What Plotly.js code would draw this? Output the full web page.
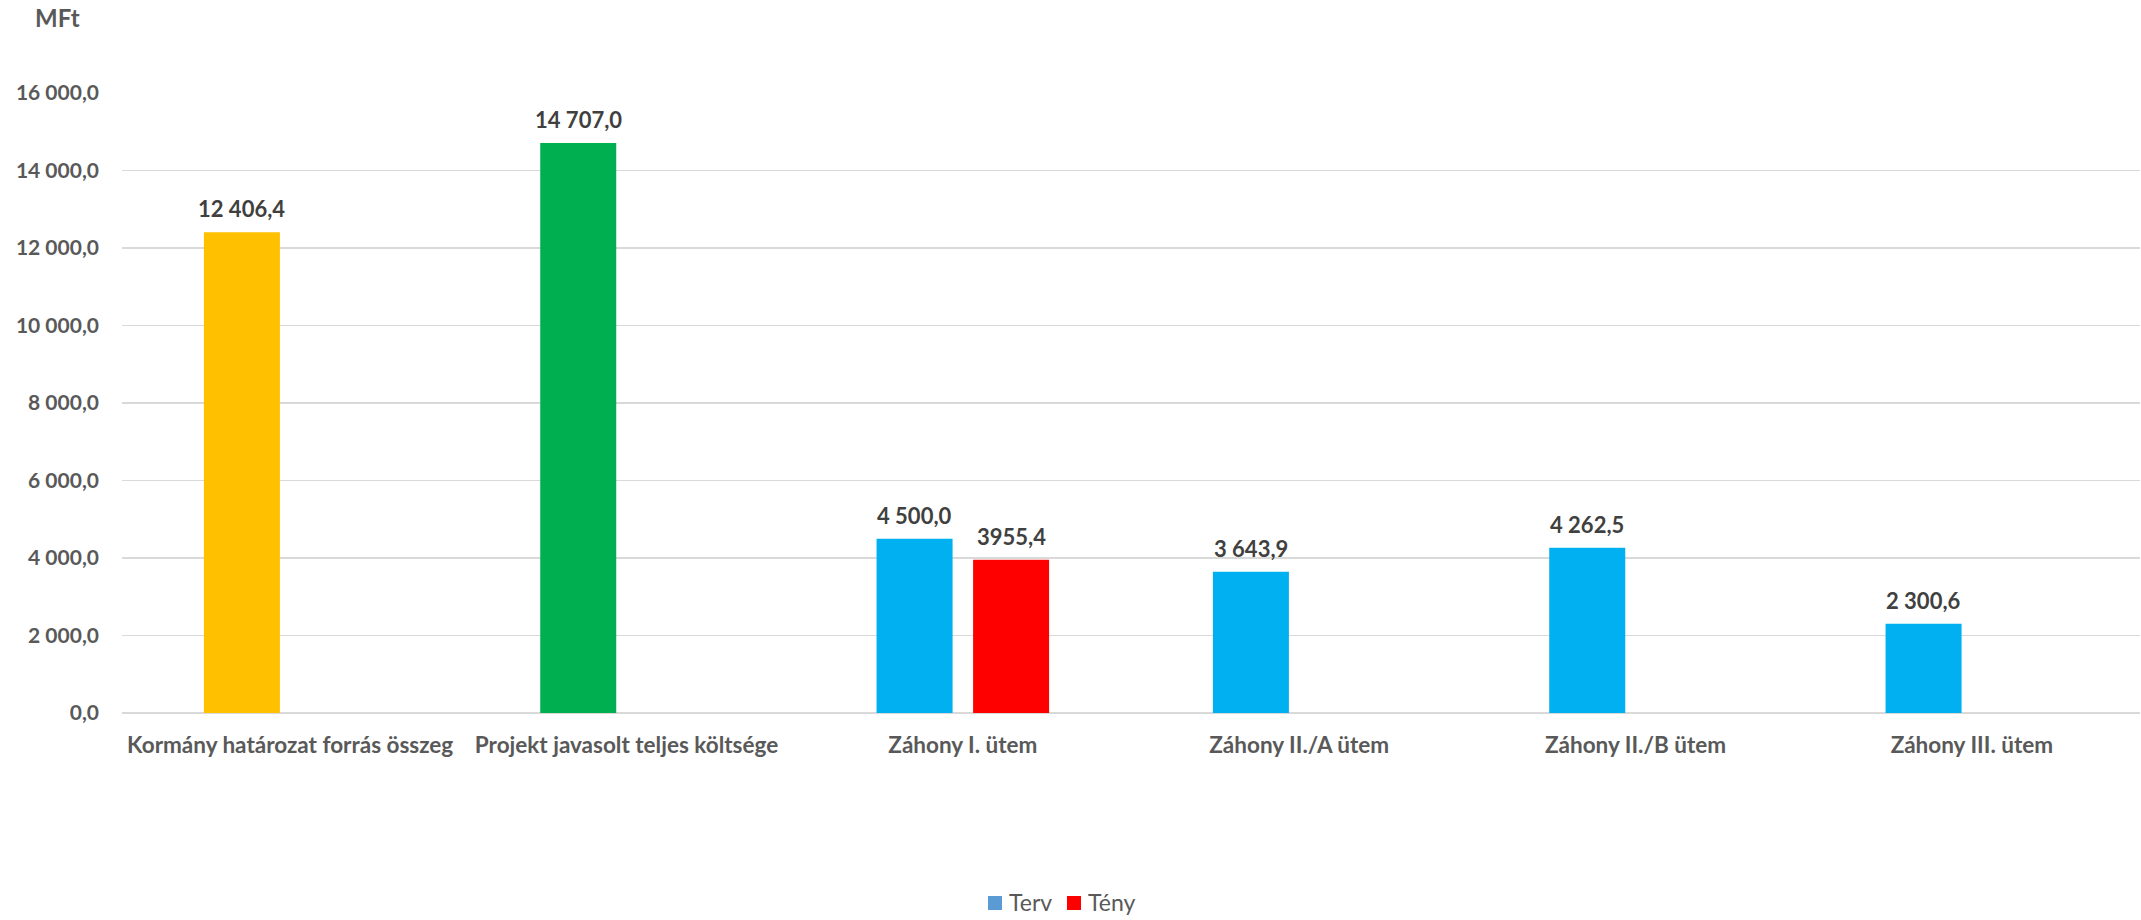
<!DOCTYPE html>
<html>
<head>
<meta charset="utf-8">
<script src="https://cdn.plot.ly/plotly-3.0.1.min.js"></script>
<style>html,body{margin:0;padding:0;background:#fff;}#chart{width:2141px;height:920px;}</style>
</head>
<body>
<div id="chart"></div>
<script>
const categories = ["Kormány határozat forrás összeg", "Projekt javasolt teljes költsége", "Záhony I. ütem", "Záhony II./A ütem", "Záhony II./B ütem", "Záhony III. ütem"];
const tervValues = [12406.4, 14707.0, 4500.0, 3643.9, 4262.5, 2300.6];
const tenyValues = [null, null, 3955.4, null, null, null];
const tervLabels = ["12 406,4", "14 707,0", "4 500,0", "3 643,9", "4 262,5", "2 300,6"];
const tenyLabels = ["", "", "3955,4", "", "", ""];
const tervColors = ["#FFC000", "#00B050", "#00B0F0", "#00B0F0", "#00B0F0", "#00B0F0"];
const tickVals = [0, 2000, 4000, 6000, 8000, 10000, 12000, 14000, 16000];
const tickText = ["0,0", "2 000,0", "4 000,0", "6 000,0", "8 000,0", "10 000,0", "12 000,0", "14 000,0", "16 000,0"];
const legendNames = ["Terv", "Tény"];
const legendColors = ["#5B9BD5", "#FF0000"];

const FONT = "Lato, 'Open Sans', sans-serif";
const BW = 0.226, OFF = 0.1435;

const W = 2141, H = 920;
const mt = 93, mb = 207, ml = 122, mr = 1;
const plotH = H - mt - mb, plotW = W - ml - mr;
const px = x => (x - ml) / plotW;
const py = y => (H - mb - y) / plotH;

const traces = [
  {type: "bar", name: "Terv", x: categories, y: tervValues, width: BW, offset: -OFF - BW/2,
   marker: {color: tervColors}, showlegend: false, hoverinfo: "x+y"},
  {type: "bar", name: "Tény", x: categories, y: tenyValues, width: BW, offset: OFF - BW/2,
   marker: {color: "#FF0000"}, showlegend: false, hoverinfo: "x+y"}
];

const annotations = [];
tervValues.forEach((v, i) => {
  if (v !== null) annotations.push({x: i - OFF, y: v, xref: "x", yref: "y", text: "<b>" + tervLabels[i] + "</b>",
    showarrow: false, yanchor: "bottom", yshift: 8, font: {family: FONT, size: 22, color: "#404040"}});
});
tenyValues.forEach((v, i) => {
  if (v !== null) annotations.push({x: i + OFF, y: v, xref: "x", yref: "y", text: "<b>" + tenyLabels[i] + "</b>",
    showarrow: false, yanchor: "bottom", yshift: 8, font: {family: FONT, size: 22, color: "#404040"}});
});
annotations.push({x: px(57), y: py(17), xref: "paper", yref: "paper",
  xanchor: "center", yanchor: "middle", text: "<b>MFt</b>", showarrow: false,
  font: {family: FONT, size: 24, color: "#595959"}});

// legend (drawn manually so it does not push the plot margins)
const legSquareX = [988, 1067];
const shapes = [];
legendNames.forEach((n, i) => {
  shapes.push({type: "rect", xref: "paper", yref: "paper", x0: px(legSquareX[i]), x1: px(legSquareX[i] + 14),
    y0: py(910), y1: py(896), fillcolor: legendColors[i], line: {width: 0}});
  annotations.push({x: px(legSquareX[i] + 19), y: py(902), xref: "paper", yref: "paper", xanchor: "left", yanchor: "middle",
    text: n, showarrow: false, font: {family: FONT, size: 23, color: "#595959"}});
});

const layout = {
  width: W, height: H,
  margin: {l: ml, r: mr, t: mt, b: mb, pad: 0},
  paper_bgcolor: "#ffffff", plot_bgcolor: "#ffffff",
  font: {family: FONT, size: 21, color: "#595959"},
  barmode: "overlay",
  xaxis: {type: "category", tickfont: {family: FONT, size: 22.5, color: "#595959", weight: "bold"},
    showgrid: false, zeroline: false, showline: false, ticks: "", ticklabelstandoff: 16, fixedrange: true},
  yaxis: {range: [0, 16000], tickvals: tickVals, ticktext: tickText, showgrid: true, gridcolor: "#D9D9D9", gridwidth: 1.3,
    zeroline: true, zerolinecolor: "#D9D9D9", zerolinewidth: 1.3, showline: false, ticks: "",
    tickfont: {family: FONT, size: 21, color: "#595959", weight: "bold"}, ticklabelstandoff: 22, fixedrange: true},
  annotations: annotations,
  shapes: shapes,
  showlegend: false
};

Plotly.newPlot("chart", traces, layout, {displayModeBar: false, staticPlot: true});
</script>
</body>
</html>
